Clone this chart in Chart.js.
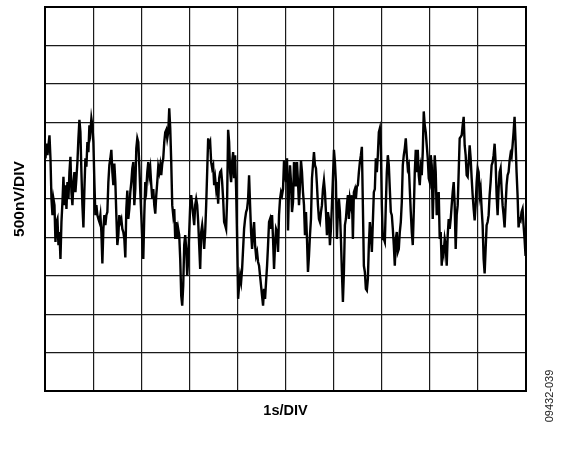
<!DOCTYPE html>
<html>
<head>
<meta charset="utf-8">
<script src="https://cdn.jsdelivr.net/npm/chart.js@4/dist/chart.umd.min.js"></script>
<style>
  html, body { margin: 0; padding: 0; background: #ffffff; }
  canvas { display: block; }
</style>
</head>
<body>
<canvas id="c" width="585" height="454"></canvas>
<script>
// Noise trace in nV, sampled uniformly across the 10 s record (1 s/DIV, 500 nV/DIV)
const TRACE_0 = [530,720,570,700,830,530,0,-210,0,-80,-560,-300,-260,-600,-430,-780,-300,-40,290,-80,180,-130,220,0,350,550,90,-80,220,350,90,270,480,790,1030,870,350,-80,-370,130,530,420,740,610,960,870,1050,960,740,220,-210,-80,-210,-260,-300,-210,-430,-840,-390,-210,-340,-210,-170,220,440,530,640,350,180,460,220,-210,-600,-470,-210,-300,-260,-390,-430];
const TRACE_1 = [-520,-760,-130,110,-260,-130,90,220,400,480,-80,130,660,790,740,440,90,-210,-560,-780,-210,220,130,350,480,310,400,180,0,130,-80,-190,50,220,420,350,440,310,460,530,740,870,900,790,870,1180,920,480,-80,-210,-130,-520,-300,-520,-390,-470,-780,-1260,-1390,-1130,-600,-470,-650,-1000,-780,-430,-80,50,-80,-210,-340,-80,0,-80,-300,-600,-910,-430,-340,-470];
const TRACE_2 = [-650,-430,-80,350,790,700,740,480,400,440,180,270,130,220,-60,270,350,370,220,0,-300,-340,-390,0,900,740,350,220,480,610,270,570,130,-520,-1300,-1130,-1000,-1080,-910,-650,-390,-260,-170,-130,0,310,-80,-430,-650,-430,-300,-600,-740,-690,-820,-870,-1000,-1130,-1260,-1390,-1170,-1300,-1080,-870,-600,-300,-260,-390,-210,-520,-910,-600,-390,-430,-690,-210,0,90,50,130];
const TRACE_3 = [500,350,220,530,-410,130,440,220,-170,-40,480,180,180,480,220,-80,180,500,350,90,-80,-470,-170,-520,-950,-740,-470,-260,270,440,610,440,400,180,-80,-260,-300,-170,-80,130,240,90,-170,-470,-170,-260,-600,-390,-80,270,640,480,220,-520,-170,0,-170,-520,-950,-1340,-950,-340,-260,-80,50,-260,0,-80,50,-520,90,130,0,160,180,350,480,570,680,-80];
const TRACE_4 = [-870,-950,-1170,-1190,-1040,-600,-300,-470,-690,-300,90,130,530,350,570,870,920,700,-80,-520,-520,-560,-80,350,570,440,130,-170,-210,-390,-600,-870,-520,-430,-690,-650,-430,-300,-40,440,570,660,790,570,400,440,130,-170,-430,-600,-170,350,640,350,640,310,180,400,310,610,1140,960,870,700,530,270,220,570,440,-260,180,570,350,-210,0,90,-520,-430,-870,-600];
const TRACE_5 = [-690,-520,-600,-870,-470,-260,-390,-260,-80,90,220,-80,-650,-210,-80,350,790,810,830,960,1070,700,570,310,290,480,700,530,270,50,-130,-280,-80,220,400,350,50,130,-130,-340,-780,-970,-650,-340,-300,-210,50,220,440,480,570,720,480,50,-210,130,350,400,130,-80,-210,-370,-80,180,310,350,500,590,550,700,870,1070,740,350,50,-370,-260,-280,-170,-130,-340,-520,-740];

const TRACE = [].concat(TRACE_0, TRACE_1, TRACE_2, TRACE_3, TRACE_4, TRACE_5);
const T_START = 0.01;      // s
const T_STEP = 0.02075;    // s per sample

const X_MIN = 0, X_MAX = 10, X_DIV = 1;          // s
const Y_MIN = -2500, Y_MAX = 2500, Y_DIV = 500;  // nV

const Y_LABEL = '500nV/DIV';
const X_LABEL = '1s/DIV';
const FIG_ID = '09432-039';

const points = TRACE.map((v, i) => ({ x: T_START + i * T_STEP, y: v }));

const framePlugin = {
  id: 'frame',
  afterDraw(chart) {
    const { ctx, chartArea: a } = chart;
    ctx.save();
    ctx.strokeStyle = '#000';
    ctx.lineWidth = 2;
    ctx.strokeRect(a.left, a.top, a.right - a.left, a.bottom - a.top);

    ctx.fillStyle = '#000';
    ctx.font = 'bold 14.5px "Liberation Sans", Arial, sans-serif';
    ctx.textAlign = 'center';
    ctx.textBaseline = 'middle';
    ctx.fillText(X_LABEL, (a.left + a.right) / 2, a.bottom + 20);

    ctx.save();
    ctx.font = 'bold 15.5px "Liberation Sans", Arial, sans-serif';
    ctx.translate(20, (a.top + a.bottom) / 2);
    ctx.rotate(-Math.PI / 2);
    ctx.fillText(Y_LABEL, 0, 0);
    ctx.restore();

    ctx.save();
    ctx.font = '11px "Liberation Sans", Arial, sans-serif';
    ctx.fillStyle = '#222';
    ctx.translate(550, 396);
    ctx.rotate(-Math.PI / 2);
    ctx.fillText(FIG_ID, 0, 0);
    ctx.restore();
    ctx.restore();
  }
};

new Chart(document.getElementById('c'), {
  type: 'line',
  data: {
    datasets: [{
      data: points,
      borderColor: '#000',
      borderWidth: 2.4,
      pointRadius: 0,
      tension: 0,
      fill: false
    }]
  },
  options: {
    responsive: false,
    animation: false,
    devicePixelRatio: 1,
    layout: { padding: { left: 45, right: 59, top: 7, bottom: 63 } },
    plugins: { legend: { display: false }, tooltip: { enabled: false } },
    scales: {
      x: {
        type: 'linear', min: X_MIN, max: X_MAX,
        ticks: { display: false, stepSize: X_DIV },
        grid: { color: '#1a1a1a', lineWidth: 1.2, drawTicks: false },
        border: { display: false }
      },
      y: {
        type: 'linear', min: Y_MIN, max: Y_MAX,
        ticks: { display: false, stepSize: Y_DIV },
        grid: { color: '#1a1a1a', lineWidth: 1.2, drawTicks: false },
        border: { display: false }
      }
    }
  },
  plugins: [framePlugin]
});
</script>
</body>
</html>
